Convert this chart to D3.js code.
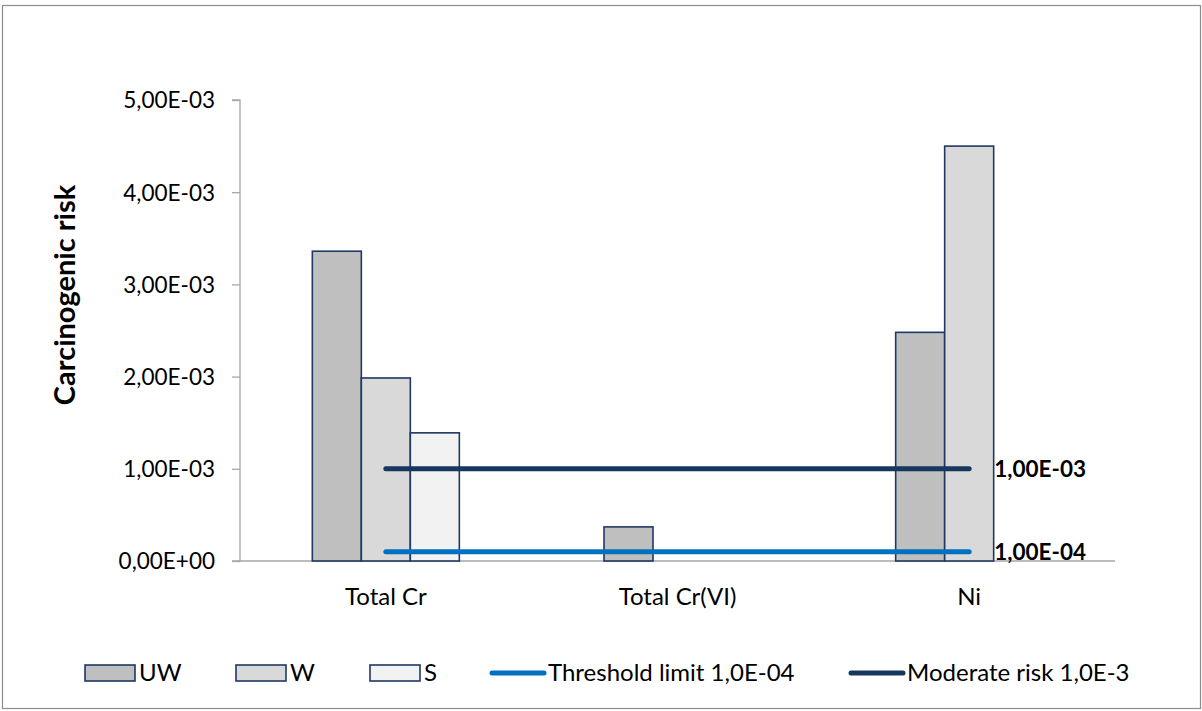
<!DOCTYPE html>
<html><head><meta charset="utf-8">
<script src="https://cdn.jsdelivr.net/npm/d3@7"></script>
<style>body{margin:0;background:#fff}svg{display:block}text{font-family:Lato,"Open Sans",sans-serif}</style>
</head><body><svg id="c" width="1202" height="711"></svg>
<script>
const categories = ["Total Cr", "Total Cr(VI)", "Ni"];
const seriesNames = ["UW", "W", "S"];
const UW = [3.36e-3, 0.37e-3, 2.48e-3];
const W = [1.985e-3, null, 4.50e-3];
const S = [1.39e-3, null, null];
const threshold = [1e-4, 1e-4, 1e-4];
const moderate = [1e-3, 1e-3, 1e-3];
const yTicks = [0, 1e-3, 2e-3, 3e-3, 4e-3, 5e-3];
const lineNames = ["Threshold limit 1,0E-04", "Moderate risk 1,0E-3"];
const lineEndLabels = ["1,00E-04", "1,00E-03"];

const svg = d3.select("#c");
const fills = ["#bfbfbf", "#d9d9d9", "#f2f2f2"];
const stroke = "#1f3864";
const lineColors = ["#0070c0", "#17375e"];
const m = {l: 240, r: 1115, t: 100, b: 561};

svg.append("rect").attr("x", 2.5).attr("y", 5.5).attr("width", 1198).attr("height", 703)
  .attr("fill", "none").attr("stroke", "#8c8c8c").attr("stroke-width", 1.2);

const x = d3.scaleBand().domain(categories).range([m.l, m.r]);
const y = d3.scaleLinear().domain([0, 5e-3]).range([m.b, m.t]);
const barW = 49;
const fmt = v => v.toExponential(2).replace(".", ",").replace(/e([+-])(\d)$/, "E$10$2");

// y axis
const ya = svg.append("g").attr("transform", `translate(${m.l},0)`)
  .call(d3.axisLeft(y).tickValues(yTicks).tickSize(8).tickFormat(fmt));
ya.select(".domain").attr("stroke", "#a6a6a6").attr("stroke-width", 1.3).attr("d", `M-8,${m.t}H0V${m.b}`);
ya.selectAll(".tick line").attr("stroke", "#a6a6a6").attr("stroke-width", 1.3);
ya.selectAll(".tick text").attr("font-size", 22.5).attr("fill", "#000").attr("x", -25).attr("dy", "0.35em")
  .style("font-family", "Lato");

// x axis
const xa = svg.append("g").attr("transform", `translate(0,${m.b})`)
  .call(d3.axisBottom(x).tickSize(0));
xa.select(".domain").attr("stroke", "#a6a6a6").attr("stroke-width", 1.3).attr("d", `M${m.l - 8},0H${m.r}`);
xa.selectAll(".tick text").attr("font-size", 24).attr("fill", "#000").attr("y", 36).attr("dy", "0.35em")
  .style("font-family", "Lato");

// y title
svg.append("text").attr("transform", "translate(75,295) rotate(-90)")
  .attr("text-anchor", "middle").attr("font-size", 29).attr("font-weight", "bold").text("Carcinogenic risk");

// bars
const series = [UW, W, S];
series.forEach((vals, si) => {
  svg.append("g").selectAll("rect").data(categories.map((c, i) => ({c, v: vals[i]})).filter(d => d.v != null))
    .join("rect")
    .attr("x", d => x(d.c) + x.bandwidth() / 2 - 1.5 * barW + si * barW)
    .attr("y", d => y(d.v)).attr("width", barW).attr("height", d => y(0) - y(d.v))
    .attr("fill", fills[si]).attr("stroke", stroke).attr("stroke-width", 1.6);
});

// lines
[threshold, moderate].forEach((vals, li) => {
  const line = d3.line().x((d, i) => x(categories[i]) + x.bandwidth() / 2).y(d => y(d));
  svg.append("path").attr("d", line(vals)).attr("fill", "none").attr("stroke", lineColors[li])
    .attr("stroke-width", 5).attr("stroke-linecap", "round");
  svg.append("text").attr("x", x(categories[2]) + x.bandwidth() / 2 + 25).attr("y", y(vals[2]))
    .attr("dy", "0.35em").attr("font-size", 22.5).attr("font-weight", "bold").text(lineEndLabels[li]);
});

// legend
const ly = 673;
const legendBars = [85, 236, 370];
seriesNames.forEach((n, i) => {
  svg.append("rect").attr("x", legendBars[i]).attr("y", ly - 8).attr("width", 50).attr("height", 16)
    .attr("fill", fills[i]).attr("stroke", stroke).attr("stroke-width", 1.6);
  svg.append("text").attr("x", legendBars[i] + 54).attr("y", ly).attr("dy", "0.35em")
    .attr("font-size", 24).text(n);
});
const legendLines = [490, 849];
lineNames.forEach((n, i) => {
  svg.append("line").attr("x1", legendLines[i] + 2).attr("x2", legendLines[i] + 54).attr("y1", ly).attr("y2", ly)
    .attr("stroke", lineColors[i]).attr("stroke-width", 5).attr("stroke-linecap", "round");
  svg.append("text").attr("x", legendLines[i] + 58).attr("y", ly).attr("dy", "0.35em")
    .attr("font-size", 24).text(n);
});
</script></body></html>
